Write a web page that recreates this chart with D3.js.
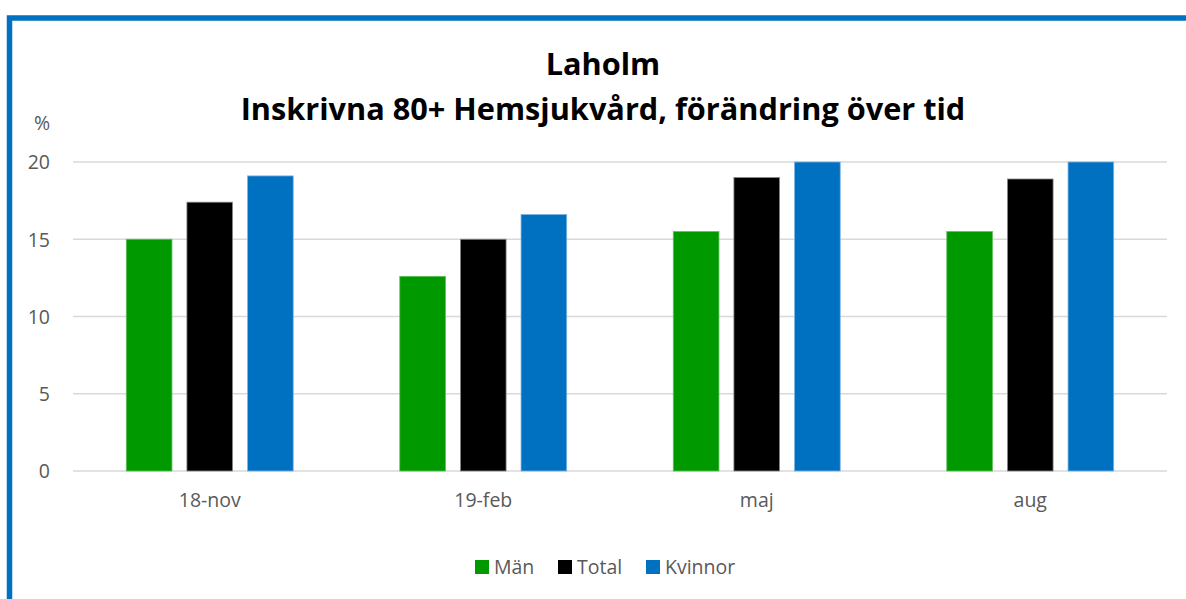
<!DOCTYPE html>
<html><head><meta charset="utf-8">
<script src="https://cdn.jsdelivr.net/npm/d3@7"></script>
<style>body{margin:0;background:#fff}svg{display:block}</style>
</head><body>
<script>
const categories = ["18-nov", "19-feb", "maj", "aug"];
const seriesNames = ["Män", "Total", "Kvinnor"];
const man = [15.0, 12.6, 15.5, 15.5];
const total = [17.4, 15.0, 19.0, 18.9];
const kvinnor = [19.1, 16.6, 20, 20];
const yTicks = [0, 5, 10, 15, 20];
const colors = ["#009900", "#000000", "#0070C0"];
const titleLines = ["Laholm", "Inskrivna 80+ Hemsjukvård, förändring över tid"];

const W = 1186, H = 599;
const svg = d3.select("body").append("svg").attr("width", W).attr("height", H);
svg.append("rect").attr("width", W).attr("height", H).attr("fill", "#fff");
svg.append("rect").attr("x", 9.5).attr("y", 18).attr("width", W + 20).attr("height", H + 20)
  .attr("fill", "none").attr("stroke", "#0070C0").attr("stroke-width", 5.5);

const pLeft = 73, pRight = 1167, pTop = 162, pBottom = 471;
const y = d3.scaleLinear().domain([0, 20]).range([pBottom, pTop]);
const x0 = d3.scaleBand().domain(categories).range([pLeft, pRight]).paddingInner(0.386).paddingOuter(0.193);
const x1 = d3.scaleBand().domain(seriesNames).range([0, x0.bandwidth()]).paddingInner(0.23);

const font = "'Open Sans', 'Noto Sans', sans-serif";
const lfs = 19.5;
// grid
svg.append("g").selectAll("line").data(yTicks).join("line")
  .attr("x1", pLeft).attr("x2", pRight).attr("y1", d => y(d)).attr("y2", d => y(d))
  .attr("stroke", "#d9d9d9").attr("stroke-width", 1.5);

const data = categories.map((c, i) => ({c, vals: [man[i], total[i], kvinnor[i]]}));
const outline = ["#5fbf5f", "#8a8a8a", "#7fb5e0"];
svg.append("g").selectAll("g").data(data).join("g")
  .attr("transform", d => `translate(${x0(d.c)},0)`)
  .selectAll("rect").data(d => d.vals.map((v, j) => ({v, j})))
  .join("rect")
  .attr("x", d => x1(seriesNames[d.j]) + 0.5)
  .attr("width", x1.bandwidth() - 1)
  .attr("y", d => y(Math.min(d.v, 20)))
  .attr("height", d => y(0) - y(Math.min(d.v, 20)))
  .attr("fill", d => colors[d.j])
  .attr("stroke", d => outline[d.j]).attr("stroke-width", 0.8);

// y axis labels
const yAxis = d3.axisLeft(y).tickValues(yTicks).tickSize(0).tickPadding(0);
const ga = svg.append("g").attr("transform", "translate(50,0)").call(yAxis);
ga.select(".domain").remove();
ga.selectAll("text").attr("font-family", font).attr("font-size", lfs).attr("fill", "#595959").attr("dy", "0.35em");
svg.append("text").attr("x", 50).attr("y", 130).attr("text-anchor", "end")
  .attr("font-family", font).attr("font-size", lfs).attr("fill", "#595959").text("%");

// x axis labels
const xAxis = d3.axisBottom(x0).tickSize(0).tickPadding(0);
const gx = svg.append("g").attr("transform", "translate(0,489)").call(xAxis);
gx.select(".domain").remove();
gx.selectAll("text").attr("font-family", font).attr("font-size", lfs).attr("fill", "#595959").attr("dy", "0.9em");

// title
const t1 = svg.append("text").attr("x", 603).attr("y", 75).attr("text-anchor", "middle")
  .attr("font-family", font).attr("font-weight", "bold").attr("font-size", 28).attr("fill", "#000").text(titleLines[0]);
const t2 = svg.append("text").attr("x", 603).attr("y", 120).attr("text-anchor", "middle")
  .attr("font-family", font).attr("font-weight", "bold").attr("font-size", 28).attr("fill", "#000").text(titleLines[1]);
const len = t2.node().getComputedTextLength();
const fs = 28 * 725 / len;
t1.attr("font-size", fs); t2.attr("font-size", fs);

// legend
const legX = [475, 558, 646];
const lg = svg.append("g").selectAll("g").data(seriesNames).join("g")
  .attr("transform", (d, i) => `translate(${legX[i]},560)`);
lg.append("rect").attr("width", 14).attr("height", 14).attr("fill", (d, i) => colors[i]);
lg.append("text").attr("x", 19).attr("y", 7).attr("dy", "0.35em")
  .attr("font-family", font).attr("font-size", lfs).attr("fill", "#595959").text(d => d);
</script>
</body></html>
